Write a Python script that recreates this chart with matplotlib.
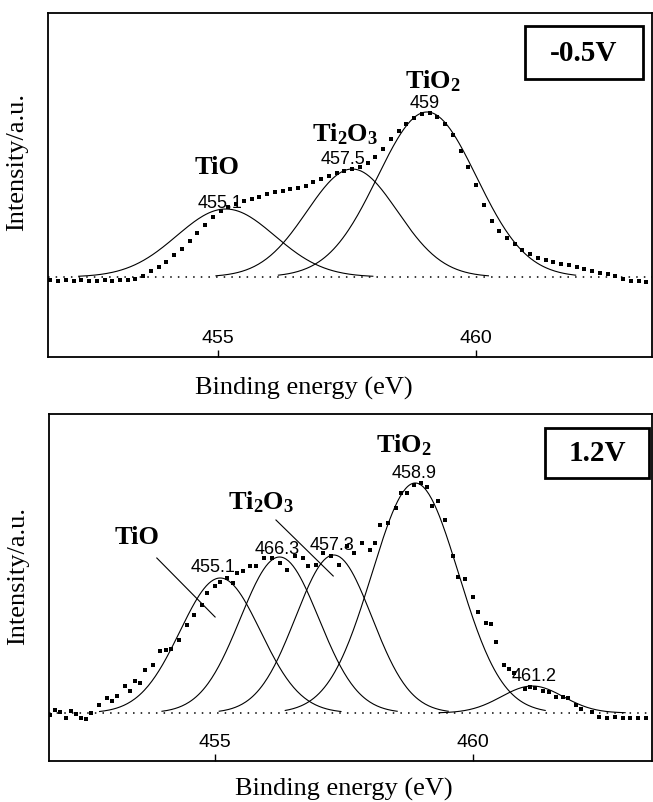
import matplotlib
matplotlib.use('Agg')
import matplotlib.pyplot as plt
import numpy as np
from matplotlib.patches import Rectangle

plt.rcParams['mathtext.fontset'] = 'custom'
plt.rcParams['mathtext.rm'] = 'Liberation Serif'
plt.rcParams['mathtext.bf'] = 'Liberation Serif:bold'

# ---- top panel (-0.5V) measured points ----
top_ev = [451.75, 451.9, 452.05, 452.2, 452.35, 452.5, 452.65, 452.8, 452.95, 453.1,
          453.25, 453.4, 453.55, 453.7, 453.85, 454.0, 454.15, 454.3, 454.45, 454.6,
          454.75, 454.9, 455.05, 455.2, 455.35, 455.5, 455.65, 455.8, 455.95, 456.1,
          456.25, 456.4, 456.55, 456.7, 456.85, 457.0, 457.15, 457.3, 457.45, 457.6,
          457.75, 457.9, 458.05, 458.2, 458.35, 458.5, 458.65, 458.8, 458.95, 459.1,
          459.25, 459.4, 459.55, 459.7, 459.85, 460.0, 460.15, 460.3, 460.45, 460.6,
          460.75, 460.9, 461.05, 461.2, 461.35, 461.5, 461.65, 461.8, 461.95, 462.1,
          462.25, 462.4, 462.55, 462.7, 462.85, 463.0, 463.15, 463.3]
top_int = [-3, -4, -3, -4, -3, -4, -4, -3, -4, -3,
           -3, -2, 1, 6, 10, 15, 22, 28, 36, 44,
           52, 60, 66, 70, 73, 76, 78, 80, 83, 85,
           86, 88, 89, 91, 95, 98, 101, 104, 106, 108,
           110, 114, 120, 128, 138, 146, 153, 159, 163, 164,
           160, 153, 142, 126, 110, 92, 72, 56, 46, 39,
           33, 27, 23, 19, 17, 15, 13, 12, 10, 8,
           6, 4, 3, 1, -2, -4, -4, -5]

# fitted components (center, height, width)
top_pk_center = [455.15, 457.6, 459.05]
top_pk_height = [68, 108, 165]
top_pk_sigma = [0.95, 0.88, 0.96]

# ---- bottom panel (1.2V) measured points ----
bot_ev = [451.8, 451.9, 452.0, 452.1, 452.2, 452.3, 452.4, 452.5, 452.6, 452.75,
          452.9, 453.0, 453.1, 453.25, 453.35, 453.45, 453.55, 453.65, 453.8, 453.93,
          454.05, 454.15, 454.3, 454.45, 454.6, 454.75, 454.85, 455.0, 455.1, 455.23,
          455.35, 455.42, 455.55, 455.68, 455.8, 455.95, 456.1, 456.25, 456.4, 456.55,
          456.7, 456.8, 456.95, 457.1, 457.25, 457.4, 457.55, 457.7, 457.85, 458.0,
          458.1, 458.2, 458.35, 458.5, 458.6, 458.72, 458.85, 459.0, 459.1, 459.2,
          459.33, 459.46, 459.62, 459.7, 459.85, 460.0, 460.1, 460.25, 460.35, 460.45,
          460.6, 460.7, 460.8, 461.0, 461.1, 461.2, 461.35, 461.47, 461.6, 461.75,
          461.85, 462.0, 462.1, 462.3, 462.45, 462.6, 462.75, 462.9, 463.05, 463.2, 463.35]
bot_int = [-2, 3, 1, -5, 2, -1, -5, -6, 0, 8,
           15, 12, 17, 27, 22, 32, 30, 43, 48, 62,
           63, 64, 73, 88, 98, 108, 120, 127, 131, 135,
           130, 140, 142, 147, 147, 155, 155, 150, 143, 157,
           155, 147, 148, 160, 157, 148, 167, 160, 170, 163,
           170, 188, 190, 205, 220, 220, 228, 230, 226, 207,
           212, 193, 157, 136, 134, 116, 101, 90, 89, 71,
           48, 44, 40, 24, 26, 25, 22, 21, 16, 16,
           15, 8, 4, 1, -4, -5, -4, -5, -5, -5, -5]

bot_pk_center = [455.1, 456.25, 457.3, 458.88, 461.15]
bot_pk_height = [135, 156, 158, 230, 27]
bot_pk_sigma = [0.78, 0.76, 0.74, 0.84, 0.6]

W, H = 653, 803
fig = plt.figure(figsize=(W / 100, H / 100), dpi=100)
ax1 = fig.add_axes([48 / W, 1 - 358 / H, 604 / W, 344 / H])
ax2 = fig.add_axes([49 / W, 1 - 762 / H, 603 / W, 347 / H])


def draw_panel(ax, ev, inten, cen, hgt, sig, xlim, ylim):
    ax.plot(ev, inten, 's', color='black', ms=2.9, mew=0)
    for c, h, s in zip(cen, hgt, sig):
        x = np.linspace(c - 3 * s, c + 3 * s, 200)
        ax.plot(x, h * np.exp(-(x - c) ** 2 / (2 * s ** 2)), color='black', lw=0.8)
    ax.axhline(0, color='black', lw=1.1, linestyle=(0, (1, 4)))
    ax.set_xlim(*xlim)
    ax.set_ylim(*ylim)
    ax.set_yticks([])
    ax.set_xticks([455, 460])
    ax.tick_params(axis='x', direction='in', length=5, width=1, pad=-20,
                   labelsize=14)
    for lab in ax.get_xticklabels():
        lab.set_fontfamily('Liberation Sans')
    for sp in ax.spines.values():
        sp.set_linewidth(1.3)


draw_panel(ax1, top_ev, top_int, top_pk_center, top_pk_height, top_pk_sigma,
           (451.705, 463.41), (-80, 264))
draw_panel(ax2, bot_ev, bot_int, bot_pk_center, bot_pk_height, bot_pk_sigma,
           (451.78, 463.47), (-48, 299))

serif_b = dict(family='Liberation Serif', fontsize=19, fontweight='bold',
               ha='center', va='center')
num = dict(family='Liberation Sans', fontsize=13, ha='center', va='center')

# top labels
ax1.text(454.98, 111, 'TiO', **serif_b)
ax1.text(455.04, 75, '455.1', **num)
ax1.text(457.46, 144, r'$\mathbf{Ti_2O_3}$', **serif_b)
ax1.text(457.42, 119, '457.5', **num)
ax1.text(459.17, 197, r'$\mathbf{TiO_2}$', **serif_b)
ax1.text(459.01, 174, '459', **num)

# bottom labels
ax2.text(453.48, 177, 'TiO', **serif_b)
ax2.plot([453.87, 455.0], [155, 96], color='black', lw=0.8)
ax2.text(454.97, 146, '455.1', **num)
ax2.text(455.9, 212, r'$\mathbf{Ti_2O_3}$', **serif_b)
ax2.plot([456.18, 457.29], [193, 137], color='black', lw=0.8)
ax2.text(456.2, 164, '466.3', **num)
ax2.text(457.26, 169, '457.3', **num)
ax2.text(458.66, 269, r'$\mathbf{TiO_2}$', **serif_b)
ax2.text(458.85, 240, '458.9', **num)
ax2.text(461.18, 37, '461.2', **num)

# voltage boxes
for ax, txt, (x0, x1, y0, y1) in [(ax1, '-0.5V', (0.79, 0.985, 0.808, 0.962)),
                                  (ax2, '1.2V', (0.8226, 0.995, 0.8156, 0.9597))]:
    ax.add_patch(Rectangle((x0, y0), x1 - x0, y1 - y0, transform=ax.transAxes,
                           fill=False, lw=2, color='black'))
    ax.text((x0 + x1) / 2, (y0 + y1) / 2, txt, transform=ax.transAxes,
            family='Liberation Serif', fontsize=21, fontweight='bold',
            ha='center', va='center')

# axis titles
fig.text(304 / W, 1 - 388 / H, 'Binding energy (eV)', family='Liberation Serif',
         fontsize=19, ha='center', va='center')
fig.text(344 / W, 1 - 789 / H, 'Binding energy (eV)', family='Liberation Serif',
         fontsize=19, ha='center', va='center')
fig.text(17 / W, 1 - 162 / H, 'Intensity/a.u.', family='Liberation Serif',
         fontsize=19, ha='center', va='center', rotation=90)
fig.text(18 / W, 1 - 576 / H, 'Intensity/a.u.', family='Liberation Serif',
         fontsize=19, ha='center', va='center', rotation=90)

fig.savefig('out.png', dpi=100)
